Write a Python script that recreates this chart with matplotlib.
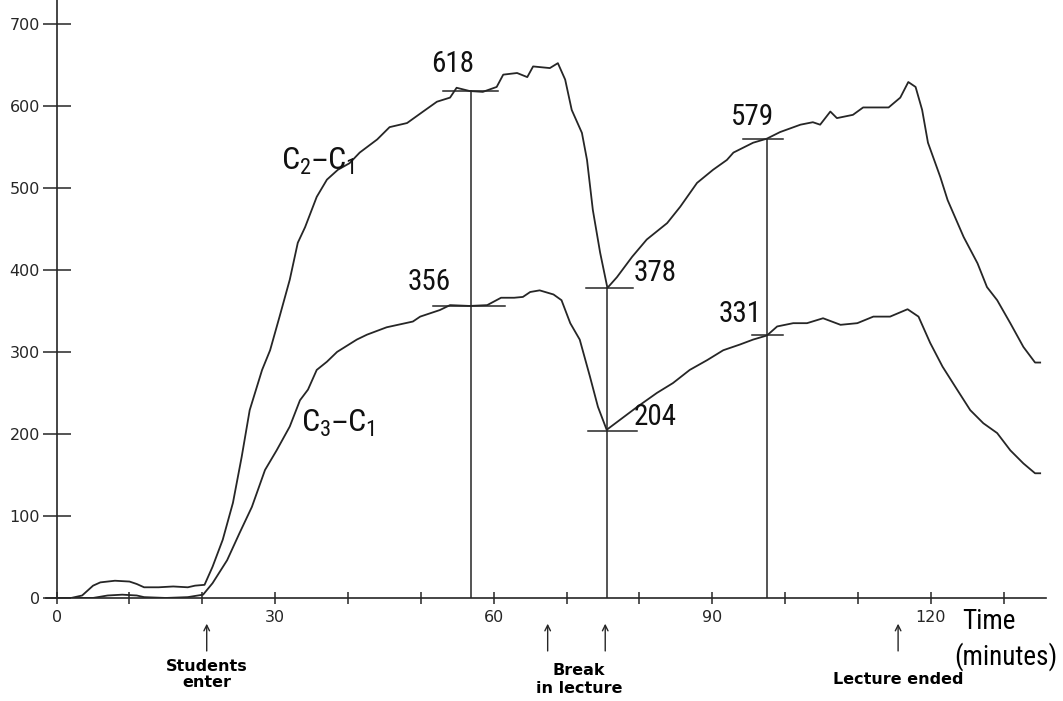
import matplotlib
matplotlib.use("Agg")
import matplotlib.pyplot as plt
from matplotlib.ticker import MultipleLocator
from matplotlib import font_manager

# time (minutes) and concentration difference
T_UPPER = [0, 2, 3.5, 5, 6, 8, 10, 11, 12, 14, 16, 18, 19, 20.3, 21.4, 22.8, 24.2,
           25.4, 26.5, 28.2, 29.3, 30.6, 32.0, 33.1, 34.1, 35.7, 37.1, 38.6, 40.2,
           41.6, 44.0, 45.7, 48.1, 50.3, 52.2, 54.0, 54.9, 56.7, 58.5, 60.4, 61.3,
           63.2, 64.6, 65.4, 67.7, 68.8, 69.8, 70.7, 72.1, 72.8, 73.6, 74.6, 75.6,
           76.9, 79.0, 81.0, 83.8, 85.6, 87.9, 90.1, 92.0, 92.9, 95.6, 97.5, 99.3,
           102.1, 103.8, 104.8, 106.2, 107.1, 109.3, 110.7, 114.2, 115.8, 116.9,
           117.9, 118.8, 119.6, 121.3, 122.3, 124.5, 126.4, 127.7, 129.1, 130.9,
           132.7, 134.3, 135.0]
C2_C1 = [0, 0, 3, 15, 19, 21, 20, 17, 13, 13, 14, 13, 15, 16, 38, 71, 116,
         172, 229, 278, 302, 343, 388, 433, 452, 489, 510, 522, 530,
         543, 559, 574, 579, 593, 605, 610, 622, 618, 617, 623, 638,
         640, 635, 648, 646, 652, 632, 595, 567, 534, 473, 421, 378,
         391, 416, 437, 457, 477, 506, 522, 534, 543, 555, 560, 568,
         577, 580, 577, 593, 585, 589, 598, 598, 610, 629,
         623, 595, 555, 513, 485, 440, 408, 379, 363, 335,
         306, 287, 287]

T_LOWER = [0, 5, 7, 9, 11, 12, 15, 18, 20.1, 21.4, 23.4, 25.1, 26.8, 28.6, 30.2,
           32.0, 33.4, 34.5, 35.7, 37.1, 38.5, 41.2, 42.6, 45.3, 48.9, 49.9, 52.6,
           54.0, 56.7, 59.1, 61.0, 62.8, 64.0, 65.0, 66.3, 68.2, 69.3, 70.5, 71.8,
           73.2, 74.3, 75.5, 77.3, 79.7, 82.4, 84.6, 86.9, 89.3, 91.5, 93.8, 95.6,
           97.5, 98.9, 101.1, 103.0, 105.2, 107.6, 109.9, 112.1, 114.4, 116.8, 118.3,
           119.9, 121.6, 123.6, 125.4, 127.2, 129.1, 130.9, 132.7, 134.3, 135.0]
C3_C1 = [0, 0, 3, 4, 3, 1, 0, 1, 4, 18, 46, 79, 111, 156, 180,
         209, 241, 254, 278, 288, 300, 315, 321, 330, 337, 343, 351,
         357, 356, 357, 366, 366, 367, 373, 375, 370, 363, 335, 315,
         270, 233, 205, 217, 233, 250, 262, 278, 290, 302, 309, 315,
         320, 331, 335, 335, 341, 333, 335, 343, 343, 352, 343,
         311, 282, 254, 229, 213, 201, 180, 164, 152, 152]

# sampling instants and the values written beside them
MARK_T = [56.9, 75.5, 97.5]
MARK_UPPER = [618, 378, 579]
MARK_LOWER = [356, 204, 331]
# heights at which the marker bars sit on the drawn trace
BAR_UPPER = [618, 378, 560]
BAR_LOWER = [356, 204, 320]

EVENT_T = [20.6, 67.4, 75.3, 115.5]

INK = "#262626"

# pick a narrow face if one is installed
names = {f.name for f in font_manager.fontManager.ttflist}
NARROW = None
for cand in ["Liberation Sans Narrow", "DejaVu Sans Condensed", "Roboto Condensed",
             "Open Sans Condensed"]:
    if cand in names:
        NARROW = cand
        break
if NARROW is None:
    narrow_kw = dict(family="DejaVu Sans", stretch="condensed")
else:
    narrow_kw = dict(family=NARROW)

fig = plt.figure(figsize=(10.63, 7.01), dpi=100)
ax = fig.add_axes([0.043, 0.147, 0.941, 0.853])

ax.plot(T_UPPER, C2_C1, color=INK, lw=1.3)
ax.plot(T_LOWER, C3_C1, color=INK, lw=1.3)

# vertical sampling lines and horizontal marker bars
for t, hu in zip(MARK_T, BAR_UPPER):
    ax.plot([t, t], [0, hu], color=INK, lw=1.1)
bar_spans = [((53.0, 60.6), (51.6, 61.5)),
             ((72.7, 79.1), (72.9, 79.7)),
             ((94.2, 99.7), (95.5, 99.7))]
for (su, sl), hu, hl in zip(bar_spans, BAR_UPPER, BAR_LOWER):
    ax.plot(su, [hu, hu], color=INK, lw=1.1)
    ax.plot(sl, [hl, hl], color=INK, lw=1.1)

# value labels
label_pos_upper = [(54.3, 651), (82.2, 396), (95.5, 586)]
label_pos_lower = [(51.2, 385), (82.2, 221), (93.8, 346)]
for (x, y), v in zip(label_pos_upper + label_pos_lower, MARK_UPPER + MARK_LOWER):
    ax.text(x, y, str(v), ha="center", va="center", fontsize=21,
            color="#111111", **narrow_kw)

ax.text(30.8, 532, r"C$\mathregular{_2}$–C$\mathregular{_1}$", ha="left", va="center",
        fontsize=23, color="#111111", **narrow_kw)
ax.text(33.6, 213, r"C$\mathregular{_3}$–C$\mathregular{_1}$", ha="left", va="center",
        fontsize=23, color="#111111", **narrow_kw)

# axes styling
ax.set_xlim(-1.5, 135.8)
ax.set_ylim(0, 729)
for s in ["top", "right"]:
    ax.spines[s].set_visible(False)
ax.spines["left"].set_position(("data", 0))
for s in ["left", "bottom"]:
    ax.spines[s].set_color(INK)
    ax.spines[s].set_linewidth(1.2)

ax.set_yticks(range(0, 701, 100))
ax.set_xticks([0, 30, 60, 90, 120])
ax.xaxis.set_minor_locator(MultipleLocator(10))
ax.tick_params(axis="y", direction="inout", length=20, width=1.1, colors=INK,
               labelsize=11.5, pad=2)
ax.tick_params(axis="x", which="both", direction="inout", length=8, width=1.1,
               colors=INK, labelsize=11.5, pad=5)

# event arrows below the time axis
for t in EVENT_T:
    ax.annotate("", xy=(t, -28), xytext=(t, -68), xycoords="data",
                arrowprops=dict(arrowstyle="->", color=INK, lw=1.0),
                annotation_clip=False)

ax.text(20.6, -93, "Students\nenter", ha="center", va="center", fontsize=11.5,
        fontweight="heavy", linespacing=1.1, clip_on=False)
ax.text(71.7, -100, "Break\nin lecture", ha="center", va="center", fontsize=11.5,
        fontweight="heavy", linespacing=1.25, clip_on=False)
ax.text(115.5, -100, "Lecture ended", ha="center", va="center", fontsize=11.5,
        fontweight="heavy", clip_on=False)

ax.text(128.0, -29, "Time", ha="center", va="center", fontsize=19.5,
        clip_on=False, **narrow_kw)
ax.text(130.3, -71, "(minutes)", ha="center", va="center", fontsize=19.5,
        clip_on=False, **narrow_kw)

fig.savefig("out.png", dpi=100)
